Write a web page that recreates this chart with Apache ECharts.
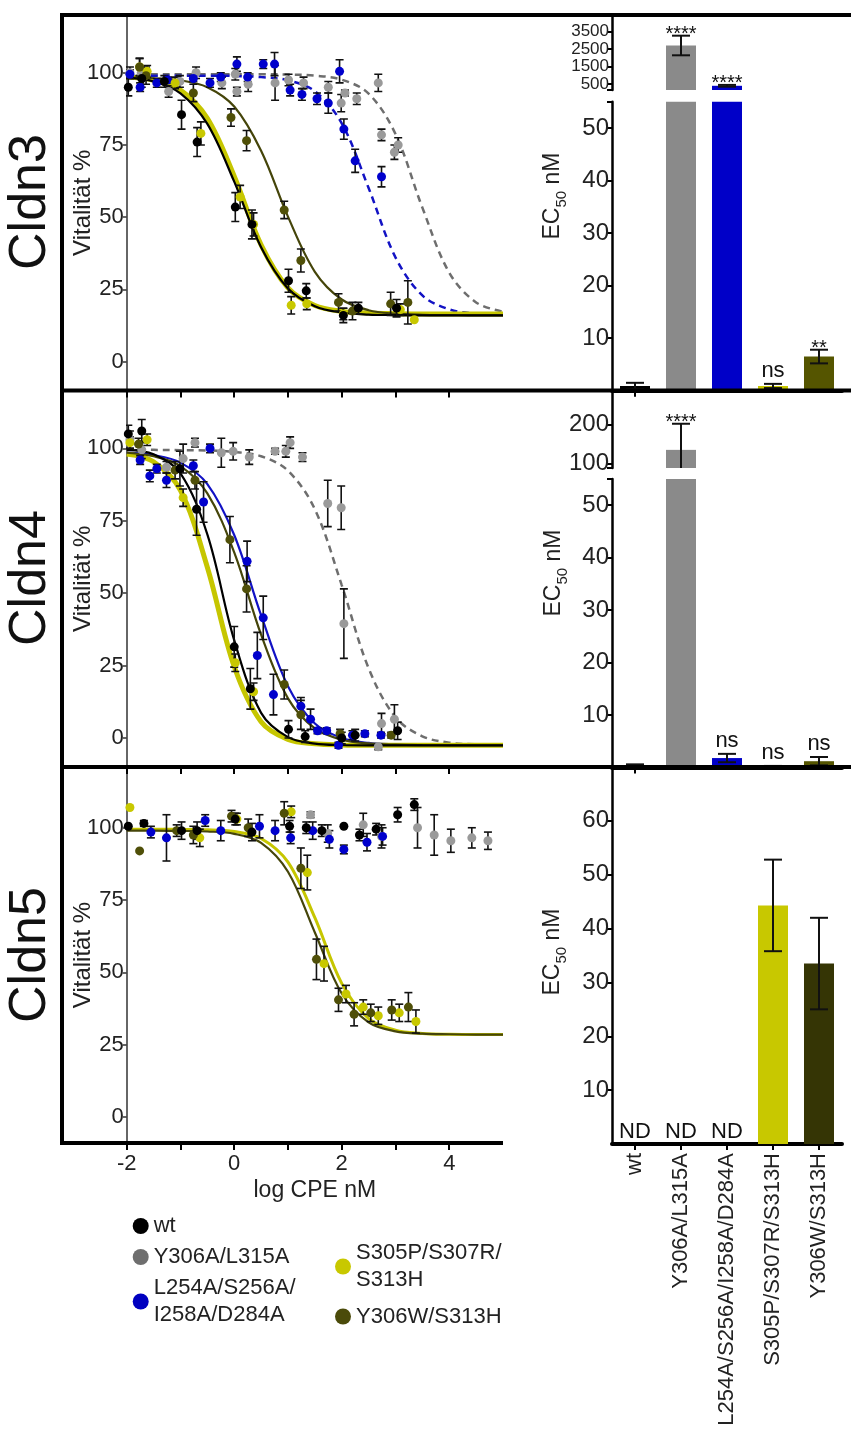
<!DOCTYPE html>
<html>
<head>
<meta charset="utf-8">
<script src="https://cdn.jsdelivr.net/npm/echarts@6/dist/echarts.min.js"></script>
<style>
  html, body { margin: 0; padding: 0; background: #fff; }
  #chart { width: 851px; height: 1432px; }
</style>
</head>
<body>
<div id="chart"></div>
<script>
// strains: legend entries and bar categories
const strains = ['wt', 'Y306A/L315A', 'L254A/S256A/I258A/D284A', 'S305P/S307R/S313H', 'Y306W/S313H'];

// x positions (log CPE nM) of the fitted curves
const fitX = [-2, -1.5, -1, -0.5, 0, 0.5, 1, 1.5, 2, 2.5, 3, 3.5, 4, 4.5, 5];

// Cldn3 points: [log CPE nM, Vitalität %, error]
const cldn3Wt = [[-1.97,95,3],[-1.72,98,3],[-1.3,97,2],[-0.98,85.5,5],[-0.69,76,5],[0.02,53.5,5],[0.33,47.5,5],[1.01,28,4],[1.34,24.5,2.5],[2.03,16,2.5],[2.31,18.5,2],[3.02,18.5,3]];
const cldn3Gray = [[-1.94,100,2],[-1.73,100,2],[-1.22,93.5,2],[-1.01,97,2],[-0.71,100,2],[-0.23,96.5,2],[0.02,99.5,2],[0.05,93.5,1.5],[0.26,96,2.5],[0.76,96.5,6],[1.01,97.5,2],[1.29,96.5,2],[1.75,95,2],[1.99,89.5,3],[2.06,93,1],[2.28,91,2],[2.68,96.5,3],[2.74,78.5,2],[2.98,72.5,2.5],[3.05,75,2.5]];
const cldn3Blue = [[-1.94,99.5,1.5],[-1.75,95,1.5],[-1.44,96.5,1.5],[-1.24,97.5,1],[-0.76,98,1],[-0.45,96.5,1.5],[-0.25,98.5,1.5],[0.05,103,2.5],[0.25,98.5,1.5],[0.54,103,1.5],[0.75,103,4],[1.04,94,2],[1.26,92.5,2],[1.54,91,2],[1.75,89.5,3.5],[1.96,100.5,4],[2.04,80.5,3.5],[2.25,69.5,4],[2.74,64,3.5]];
const cldn3Yellow = [[-1.76,102,3],[-1.62,100.5,2],[-1.1,96.5,2],[-0.62,79,4],[0.11,57,4],[0.36,47.5,4],[1.06,19.5,3],[1.35,20,2],[2.03,16.5,2],[3.09,18,2],[3.35,14.5,0]];
const cldn3Olive = [[-1.76,102,3],[-1.64,99,3],[-0.76,93,3],[-0.06,84.5,3],[0.23,76.5,3.5],[0.93,52.5,3],[1.24,35,4],[1.94,20.5,3],[2.2,17.5,3],[2.91,20,4],[3.23,20.5,7.5]];

// Cldn3 fitted curves at fitX
const cldn3WtFit = [98.3, 97.0, 92.9, 82.3, 62.3, 39.6, 25.3, 19.2, 17.0, 16.3, 16.1, 16.0, 16.0, 16.0, 16.0];
const cldn3GrayFit = [99.5, 99.5, 99.5, 99.5, 99.5, 99.5, 99.4, 99.0, 97.6, 92.8, 78.8, 53.3, 30.8, 20.5, 17.3];
const cldn3BlueFit = [99.0, 99.0, 99.0, 99.0, 98.9, 98.5, 97.4, 93.6, 82.5, 60.1, 36.1, 22.9, 18.1, 16.6, 16.2];
const cldn3YellowFit = [98.5, 97.4, 94.0, 84.2, 64.2, 40.4, 25.5, 19.4, 17.4, 16.8, 16.6, 16.5, 16.5, 16.5, 16.5];
const cldn3OliveFit = [98.4, 98.1, 97.4, 95.0, 88.3, 73.0, 50.2, 31.1, 21.5, 17.8, 16.6, 16.2, 16.1, 16.0, 16.0];

// Cldn4 points
const cldn4Wt = [[-1.97,105,3],[-1.72,106,4],[-1.01,93,6],[-0.7,79,9],[0.0,31.5,7],[0.3,17,7],[1.01,3,3],[1.32,0.5,2],[2.0,0,2],[2.25,1,2],[3.04,2.5,3]];
const cldn4Gray = [[-1.94,103,3],[-1.72,99.5,3],[-1.26,93.5,2],[-0.95,96.5,5],[-0.73,102,1.5],[-0.24,98.5,5],[-0.02,99,3],[0.28,97,2.5],[0.76,99,1],[0.96,99,2],[1.04,102,2],[1.27,97,1.5],[1.74,81,8],[1.99,79.5,7.5],[2.04,39.5,12],[2.68,-3,1],[2.74,5,3.5],[2.98,6.5,5]];
const cldn4Blue = [[-1.75,96,1.5],[-1.57,90.5,2],[-1.44,93,1.5],[-1.26,89,2.5],[-0.76,94,2],[-0.57,81.5,7],[-0.45,100,1.5],[0.24,61,7],[0.43,28.5,8],[0.54,41.5,7.5],[0.73,15,7],[1.24,11,3],[1.42,6.5,3.5],[1.55,2.5,1],[1.72,2.5,1],[1.94,-2.5,1],[2.2,1,1.5],[2.43,1.5,1],[2.73,1,1]];
const cldn4Yellow = [[-1.94,102,2],[-1.62,103,2],[-0.95,83,3],[0.02,26,3],[0.36,16,3]];
const cldn4Olive = [[-1.78,101.5,2],[-1.1,92.5,3],[-0.73,89,3],[-0.08,68.5,8],[0.23,51.5,8],[0.93,18.5,5],[1.24,8,5],[1.97,1.5,1.5],[2.92,1,1]];

// Cldn4 fitted curves
const cldn4WtFit = [99.5, 98.0, 91.4, 70.3, 33.8, 8.7, 0.3, -1.9, -2.4, -2.5, -2.5, -2.5, -2.5, -2.5, -2.5];
const cldn4GrayFit = [99.5, 99.5, 99.4, 99.3, 98.8, 97.3, 92.3, 79.0, 52.8, 24.1, 7.2, 0.6, -1.6, -2.2, -2.4];
const cldn4BlueFit = [98.6, 97.7, 95.1, 87.7, 70.1, 42.4, 17.9, 5.0, 0.0, -1.7, -2.2, -2.4, -2.5, -2.5, -2.5];
const cldn4YellowFit = [98.1, 95.4, 85.5, 59.0, 24.7, 5.6, -0.5, -2.0, -2.4, -2.5, -2.5, -2.5, -2.5, -2.5, -2.5];
const cldn4OliveFit = [98.5, 97.3, 93.9, 84.5, 64.1, 35.7, 13.7, 3.3, -0.6, -1.9, -2.3, -2.45, -2.5, -2.5, -2.5];

// Cldn5 points
const cldn5Wt = [[-1.97,100.5,0],[-1.68,101.5,1],[-0.98,99,3],[-0.69,99,3],[0.02,103,2],[0.33,98.5,3],[1.03,100.5,2],[1.34,100,2],[1.63,99,2],[2.04,100.5,0],[2.33,97.5,2],[2.64,99.5,2],[3.04,104.5,2.5],[3.35,108,2]];
const cldn5Gray = [[1.42,104.5,1],[1.74,98,3],[2.4,101,4],[2.74,97,4],[3.41,100,7],[3.72,97.5,7],[4.03,95.5,4],[4.42,96.5,3.5],[4.72,95.5,3]];
const cldn5Blue = [[-1.55,98.5,2],[-1.26,96.5,8],[-0.54,102.5,2],[-0.25,99,3.5],[0.47,100.5,4],[0.76,99,3.5],[1.05,96.5,2],[1.46,99,3],[1.77,96,3],[2.04,92.5,1.5],[2.47,95,3],[2.76,97,3]];
const cldn5Yellow = [[-1.94,107,0],[-0.64,96.5,3],[0.05,103,2],[1.06,105.5,2],[1.36,84.5,6],[1.67,53,6],[2.08,42.5,3],[2.4,38,2.5],[2.68,35,3],[3.07,36,3],[3.38,33,4]];
const cldn5Olive = [[-1.76,92,0],[-1.07,99,2],[-0.76,97.5,3],[-0.05,104,2],[0.26,100,3],[0.93,105,4],[1.24,86,7],[1.53,54.5,7],[1.94,40.5,4],[2.23,35.5,4],[2.54,36,3],[2.93,37,3.5],[3.24,38,5]];

// Cldn5 fitted curves
const cldn5YellowFit = [99.5, 99.5, 99.4, 99.3, 98.7, 96.3, 88.1, 68.9, 46.2, 34.0, 30.0, 28.9, 28.6, 28.5, 28.5];
const cldn5OliveFit = [99.0, 99.0, 98.9, 98.7, 97.9, 94.8, 84.8, 63.8, 42.7, 32.7, 29.6, 28.8, 28.6, 28.5, 28.5];

// EC50 nM bars, errors and significance marks
const cldn3Ec50 = [0.9, 2700, 400, 0.9, 6.5];
const cldn3Err = [0.6, 560, 50, 0.4, 1.3];
const cldn3Sig = ['', '****', '****', 'ns', '**'];
const cldn4Ec50 = [0.4, 135, 1.8, 0.2, 1.2];
const cldn4Err = [0.2, 67, 0.8, 0.1, 0.8];
const cldn4Sig = ['', '****', 'ns', 'ns', 'ns'];
const cldn5Ec50 = [null, null, null, 44.3, 33.5];
const cldn5Err = [0, 0, 0, 8.5, 8.5];
const cldn5Sig = ['ND', 'ND', 'ND', '', ''];

// tick labels
const vitTicks = [0, 25, 50, 75, 100];
const logTicks = [-2, 0, 2, 4];
const logMinorTicks = [-2, -1, 0, 1, 2, 3, 4];
const ec50LowTicks = [10, 20, 30, 40, 50];
const ec50Cldn3HighTicks = [500, 1500, 2500, 3500];
const ec50Cldn4HighTicks = [100, 200];
const ec50Cldn5Ticks = [10, 20, 30, 40, 50, 60];

const FONT = 'Liberation Sans, Arial, sans-serif';
const pointColors = ['#000000', '#9a9a9a', '#0000cc', '#c8c800', '#4f4f08'];
const lineColors = ['#000000', '#6e6e6e', '#1212c4', '#c6c600', '#45450a'];
const legendColors = ['#000000', '#6e6e6e', '#0000c0', '#c8c800', '#4b4b0a'];
const drawOrder = [1, 2, 3, 4, 0];

const panels = [
  { pts: [cldn3Wt, cldn3Gray, cldn3Blue, cldn3Yellow, cldn3Olive],
    fits: [cldn3WtFit, cldn3GrayFit, cldn3BlueFit, cldn3YellowFit, cldn3OliveFit],
    dashed: [false, true, true, false, false], yellowWidth: 5 },
  { pts: [cldn4Wt, cldn4Gray, cldn4Blue, cldn4Yellow, cldn4Olive],
    fits: [cldn4WtFit, cldn4GrayFit, cldn4BlueFit, cldn4YellowFit, cldn4OliveFit],
    dashed: [false, true, false, false, false], yellowWidth: 5 },
  { pts: [cldn5Wt, cldn5Gray, cldn5Blue, cldn5Yellow, cldn5Olive],
    fits: [null, null, null, cldn5YellowFit, cldn5OliveFit],
    dashed: [false, false, false, false, false], yellowWidth: 3 }
];

const grid = [
  { left: 126.7, top: 15, width: 376.3, height: 375.5 },
  { left: 126.7, top: 390.5, width: 376.3, height: 376.5 },
  { left: 126.7, top: 767, width: 376.3, height: 376 },
  { left: 612, top: 15, width: 230, height: 75 },
  { left: 612, top: 101.7, width: 230, height: 289 },
  { left: 612, top: 391, width: 230, height: 77 },
  { left: 612, top: 479, width: 230, height: 288.5 },
  { left: 612, top: 767, width: 230, height: 377 }
];

const xAxis = [];
const yAxis = [];
const yRanges = [[-10, 120], [-10, 120], [-9, 121]];
for (let g = 0; g < 3; g++) {
  xAxis.push({
    type: 'value', gridIndex: g, min: -2, max: 5,
    axisLine: { show: false, onZero: false },
    axisTick: { show: true, customValues: logMinorTicks, length: 7, lineStyle: { color: '#000', width: 2 } },
    splitLine: { show: false },
    axisLabel: g === 2
      ? { show: true, customValues: logTicks, fontSize: 22, color: '#222', fontFamily: FONT, margin: 10 }
      : { show: false },
    name: g === 2 ? 'log CPE nM' : '',
    nameLocation: 'middle', nameGap: 36, nameMoveOverlap: false,
    nameTextStyle: { fontSize: 23, color: '#222', fontFamily: FONT }
  });
  yAxis.push({
    type: 'value', gridIndex: g, min: yRanges[g][0], max: yRanges[g][1],
    axisLine: { show: true, onZero: false, lineStyle: { color: '#333', width: 1.5 } },
    axisTick: { show: true, customValues: vitTicks, length: 4, lineStyle: { color: '#333', width: 1.5 } },
    axisLabel: { customValues: vitTicks, fontSize: 22, color: '#222', fontFamily: FONT, margin: 3 },
    splitLine: { show: false },
    name: 'Vitalität %', nameLocation: 'middle', nameGap: 31, nameRotate: 90, nameMoveOverlap: false,
    nameTextStyle: { fontSize: 24, color: '#222', fontFamily: FONT }
  });
}

// bar chart axes: [grid, min, max, ticks, tick label size, extra tick]
const barAxes = [
  [3, 160, 4440, ec50Cldn3HighTicks, 17, 160],
  [4, 0, 55, ec50LowTicks, 24, 55],
  [5, 88.5, 286, ec50Cldn4HighTicks, 24, 88.5],
  [6, 0, 55, ec50LowTicks, 24, 55],
  [7, 0, 70, ec50Cldn5Ticks, 24, null]
];
barAxes.forEach(([g, mn, mx, ticks, fs, extra]) => {
  const upper = g === 3 || g === 5;
  xAxis.push({
    type: 'category', gridIndex: g, data: strains, show: !upper,
    axisLine: { show: true, lineStyle: { color: '#000', width: 4 } },
    axisTick: { show: true, alignWithLabel: true, length: 6, lineStyle: { color: '#000', width: 2 } },
    axisLabel: g === 7
      ? { show: true, rotate: 90, fontSize: 22, color: '#222', fontFamily: FONT, margin: 9, interval: 0 }
      : { show: false }
  });
  yAxis.push({
    type: 'value', gridIndex: g, min: mn, max: mx,
    axisLine: { show: true, lineStyle: { color: '#000', width: 2.5 } },
    axisTick: { show: true, customValues: extra == null ? ticks : ticks.concat([extra]), length: 5, lineStyle: { color: '#000', width: 2 } },
    axisLabel: { customValues: ticks, fontSize: fs, lineHeight: fs, color: '#222', fontFamily: FONT, margin: 3,
      hideOverlap: false, showMinLabel: true, showMaxLabel: true,
      formatter: v => String(v) },
    splitLine: { show: false }
  });
});

function errorBars(data, axisIdx) {
  return {
    type: 'custom', xAxisIndex: axisIdx, yAxisIndex: axisIdx, data: data, clip: true, z: 3,
    encode: { x: 0, y: 1 },
    renderItem: function (params, api) {
      const x = api.value(0), y = api.value(1), e = api.value(2);
      if (!e) return null;
      const a = api.coord([x, y + e]), b = api.coord([x, y - e]);
      const st = { stroke: '#111', lineWidth: 1.6 };
      return { type: 'group', children: [
        { type: 'line', shape: { x1: a[0], y1: a[1], x2: b[0], y2: b[1] }, style: st },
        { type: 'line', shape: { x1: a[0] - 4, y1: a[1], x2: a[0] + 4, y2: a[1] }, style: st },
        { type: 'line', shape: { x1: b[0] - 4, y1: b[1], x2: b[0] + 4, y2: b[1] }, style: st }
      ] };
    }
  };
}

const series = [];
panels.forEach((p, g) => {
  drawOrder.forEach(i => {
    if (!p.fits[i]) return;
    const w = i === 3 ? p.yellowWidth : (p.dashed[i] ? 2.5 : 2.2);
    series.push({
      type: 'line', xAxisIndex: g, yAxisIndex: g, z: 2,
      data: fitX.map((x, k) => [x, p.fits[i][k]]),
      smooth: 0.35, showSymbol: false, silent: true,
      lineStyle: { color: lineColors[i], width: w, type: p.dashed[i] ? [7, 5] : 'solid' }
    });
  });
  drawOrder.forEach(i => {
    series.push(errorBars(p.pts[i], g));
    series.push({
      type: 'scatter', name: strains[i], xAxisIndex: g, yAxisIndex: g, z: 4,
      data: p.pts[i], encode: { x: 0, y: 1 }, symbolSize: 9,
      itemStyle: { color: pointColors[i], opacity: 1 }
    });
  });
});

function barSeries(vals, colors, axisIdx) {
  return {
    type: 'bar', xAxisIndex: axisIdx, yAxisIndex: axisIdx, barWidth: 30, clip: true, z: 2,
    data: vals.map((v, i) => ({ value: v, itemStyle: { color: colors[i] } }))
  };
}

function barErrors(vals, errs, sigs, axisIdx, lo, hi) {
  return {
    type: 'custom', xAxisIndex: axisIdx, yAxisIndex: axisIdx, clip: false, z: 3,
    data: vals.map((v, i) => [i, v == null ? 0 : v, errs[i]]),
    encode: { x: 0, y: 1 },
    renderItem: function (params, api) {
      const i = params.dataIndex, v = vals[i];
      if (v != null && (v < lo || v > hi)) return null;
      const children = [];
      const cx = api.coord([i, 0])[0];
      let topY;
      if (v == null) {
        topY = api.coord([i, 0])[1] - 1;
      } else {
        const e = errs[i];
        const bottomVal = Math.max(v - e, lo);
        const a = api.coord([i, v + e]), b = api.coord([i, bottomVal]);
        const st = { stroke: '#111', lineWidth: 2 };
        children.push({ type: 'line', shape: { x1: cx, y1: a[1], x2: cx, y2: b[1] }, style: st });
        children.push({ type: 'line', shape: { x1: cx - 9, y1: a[1], x2: cx + 9, y2: a[1] }, style: st });
        if (v - e >= lo) children.push({ type: 'line', shape: { x1: cx - 9, y1: b[1], x2: cx + 9, y2: b[1] }, style: st });
        topY = a[1] - 2;
      }
      const s = sigs[i];
      if (s) {
        const star = s.charAt(0) === '*';
        children.push({
          type: 'text', x: cx, y: star ? topY + 1 : topY,
          style: { text: s, fill: '#111', font: (star ? 20 : 22) + 'px ' + FONT,
            align: 'center', textAlign: 'center',
            verticalAlign: star ? 'middle' : 'bottom', textVerticalAlign: star ? 'middle' : 'bottom' }
        });
      }
      return { type: 'group', children: children };
    }
  };
}

const barColors = ['#000000', '#8a8a8a', '#0000c8', '#c8c800', '#555500'];
const barColorsCldn5 = ['#000000', '#8a8a8a', '#0000c8', '#c8c800', '#353505'];
series.push(barSeries(cldn3Ec50, barColors, 3), barErrors(cldn3Ec50, cldn3Err, cldn3Sig, 3, 160, Infinity));
series.push(barSeries(cldn3Ec50, barColors, 4), barErrors(cldn3Ec50, cldn3Err, cldn3Sig, 4, 0, 55));
series.push(barSeries(cldn4Ec50, barColors, 5), barErrors(cldn4Ec50, cldn4Err, cldn4Sig, 5, 88.5, Infinity));
series.push(barSeries(cldn4Ec50, barColors, 6), barErrors(cldn4Ec50, cldn4Err, cldn4Sig, 6, 0, 55));
series.push(barSeries(cldn5Ec50, barColorsCldn5, 7), barErrors(cldn5Ec50, cldn5Err, cldn5Sig, 7, 0, 70));

function hline(y, x1, x2) {
  return { type: 'line', shape: { x1: x1, y1: y, x2: x2, y2: y }, style: { stroke: '#000', lineWidth: 4 }, z: 10 };
}
function rotText(text, x, y, size) {
  return { type: 'text', x: x, y: y, rotation: Math.PI / 2, z: 10,
    style: { text: text, fill: '#111', font: size + 'px ' + FONT,
      align: 'center', textAlign: 'center', verticalAlign: 'middle', textVerticalAlign: 'middle' } };
}
function ec50Label(x, y) {
  return { type: 'text', x: x, y: y, rotation: Math.PI / 2, z: 10,
    style: { text: '{a|EC}{b|50}{a| nM}', fill: '#222', align: 'center', textAlign: 'center',
      verticalAlign: 'middle', textVerticalAlign: 'middle',
      rich: {
        a: { fontSize: 23, fontFamily: FONT, lineHeight: 23, verticalAlign: 'top', fill: '#222' },
        b: { fontSize: 15, fontFamily: FONT, lineHeight: 28, verticalAlign: 'bottom', fill: '#222' }
      } } };
}

const legendFormat = {
  'L254A/S256A/I258A/D284A': 'L254A/S256A/\nI258A/D284A',
  'S305P/S307R/S313H': 'S305P/S307R/\nS313H'
};
function legendData(idx) {
  return idx.map(i => ({ name: strains[i], itemStyle: { color: legendColors[i] } }));
}
const legendText = { fontSize: 22, lineHeight: 27, color: '#222', fontFamily: FONT };

const option = {
  animation: false,
  backgroundColor: '#fff',
  textStyle: { fontFamily: FONT },
  grid: grid,
  xAxis: xAxis,
  yAxis: yAxis,
  legend: [
    { orient: 'vertical', left: 127.7, top: 1207.5, itemGap: 4, icon: 'circle', itemWidth: 16, itemHeight: 16,
      selectedMode: false, data: legendData([0, 1, 2]), textStyle: legendText,
      formatter: n => legendFormat[n] || n },
    { orient: 'vertical', left: 330, top: 1234.5, itemGap: 9.5, icon: 'circle', itemWidth: 16, itemHeight: 16,
      selectedMode: false, data: legendData([3, 4]), textStyle: legendText,
      formatter: n => legendFormat[n] || n }
  ],
  graphic: [
    { type: 'line', shape: { x1: 62, y1: 13, x2: 62, y2: 1145 }, style: { stroke: '#000', lineWidth: 4 }, z: 10 },
    hline(15, 60, 851),
    hline(390.5, 60, 851),
    hline(767, 60, 851),
    hline(1143, 60, 503),
    rotText('Cldn3', 31, 202, 52),
    rotText('Cldn4', 31, 578, 52),
    rotText('Cldn5', 31, 955, 52),
    ec50Label(555, 196),
    ec50Label(556, 573),
    ec50Label(555, 952)
  ],
  series: series
};

const chart = echarts.init(document.getElementById('chart'), null, { renderer: 'canvas' });
chart.setOption(option);
</script>
</body>
</html>
